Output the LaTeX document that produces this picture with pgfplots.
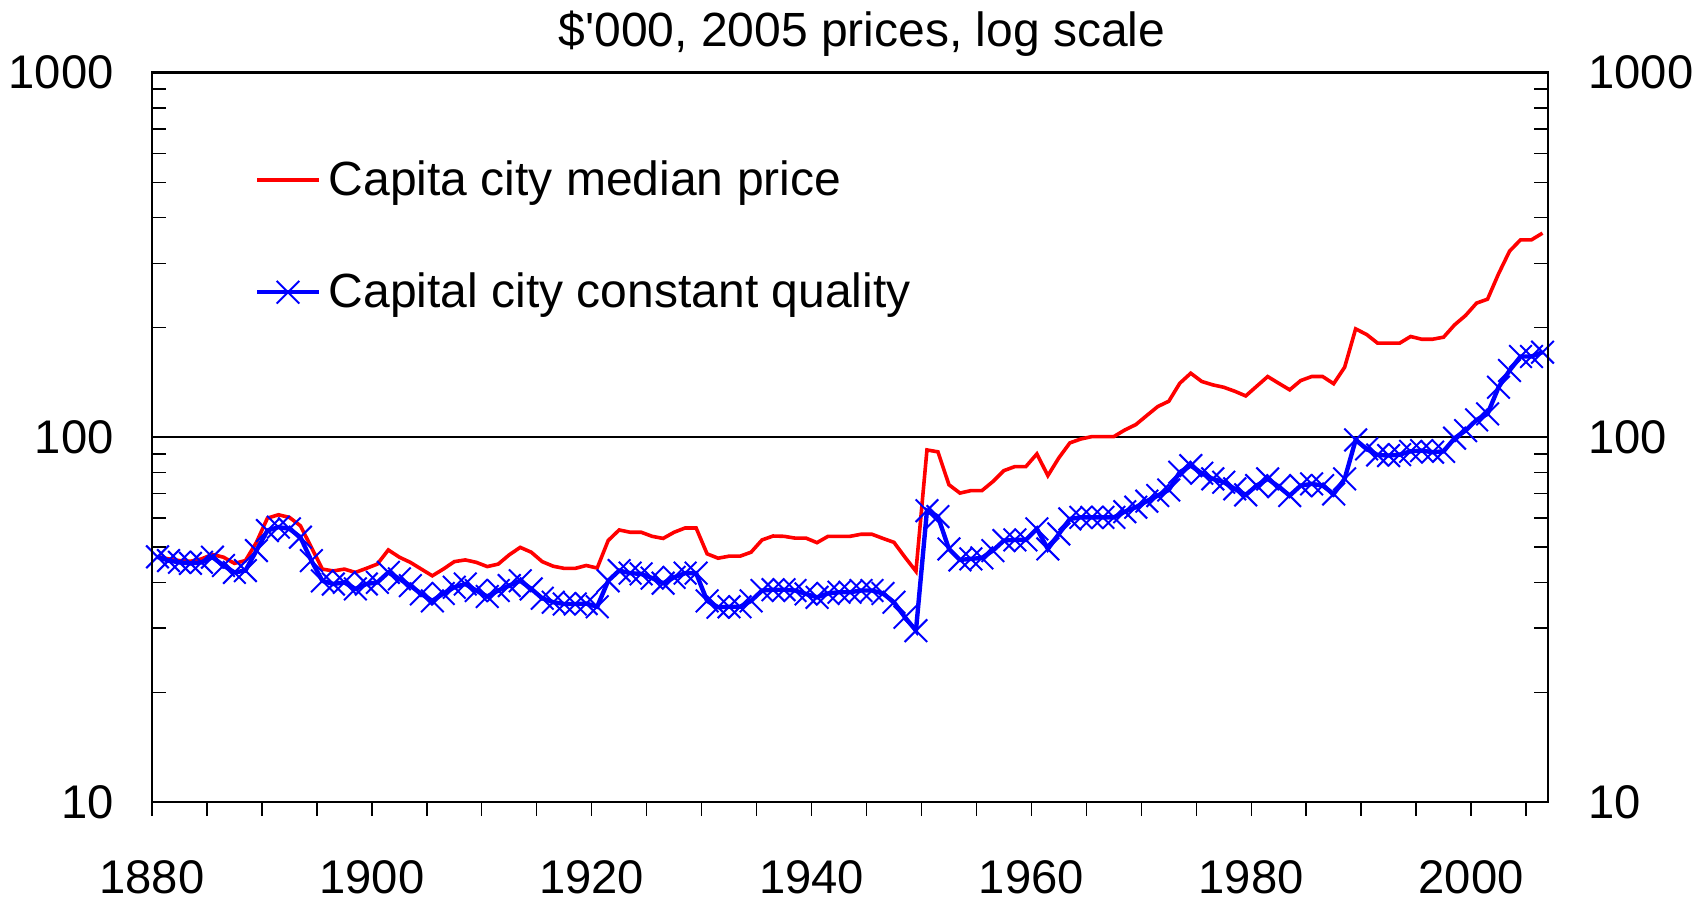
\documentclass[border=0pt]{standalone}
\usepackage{fontspec}
\setmainfont{Liberation Sans}
\usepackage{pgfplots}
\usepackage{pgfplotstable}
\pgfplotsset{compat=1.18}
\newcommand\fsA{\fontsize{24bp}{28bp}\selectfont}
\newcommand\fsT{\fontsize{23.6bp}{27bp}\selectfont}

\pgfplotstableread{
year med cq
1880 47.1 47.0
1881 46.4 45.9
1882 45.9 45.4
1883 45.7 45.1
1884 46.4 45.4
1885 47.7 46.9
1886 46.9 44.5
1887 45.1 42.6
1888 45.9 43.1
1889 51.5 48.9
1890 60.0 55.5
1891 61.3 56.7
1892 60.3 56.1
1893 57.2 53.2
1894 49.9 45.9
1895 43.5 40.4
1896 43.0 39.6
1897 43.5 40.0
1898 42.6 38.4
1899 43.7 39.6
1900 44.9 40.0
1901 49.1 42.6
1902 46.9 40.9
1903 45.4 39.2
1904 43.5 37.2
1905 41.7 35.6
1906 43.5 37.3
1907 45.6 38.8
1908 46.1 39.6
1909 45.4 38.0
1910 44.2 36.6
1911 44.9 38.0
1912 47.6 39.2
1913 49.9 40.4
1914 48.4 38.4
1915 45.6 36.2
1916 44.3 35.3
1917 43.7 34.9
1918 43.7 34.9
1919 44.5 35.0
1920 43.8 34.3
1921 52.1 40.4
1922 55.7 43.1
1923 54.9 42.4
1924 54.9 42.2
1925 53.5 41.1
1926 52.8 39.8
1927 54.9 41.3
1928 56.4 42.4
1929 56.4 42.4
1930 47.9 35.6
1931 46.6 34.2
1932 47.2 34.3
1933 47.2 34.3
1934 48.4 35.6
1935 52.3 38.0
1936 53.6 38.2
1937 53.5 38.2
1938 52.9 38.0
1939 52.9 37.2
1940 51.4 36.4
1941 53.5 37.3
1942 53.5 37.6
1943 53.5 37.6
1944 54.2 38.0
1945 54.2 38.0
1946 52.8 37.3
1947 51.5 35.3
1948 46.9 32.1
1949 42.9 29.5
1950 92.3 62.9
1951 91.2 60.6
1952 74.1 49.4
1953 70.3 46.1
1954 71.4 46.4
1955 71.4 46.7
1956 75.6 48.9
1957 81.0 52.1
1958 83.1 52.3
1959 83.1 52.3
1960 90.0 56.1
1961 78.5 49.4
1962 87.8 54.3
1963 96.5 59.7
1964 98.9 60.3
1965 100.4 60.3
1966 100.4 60.3
1967 100.4 60.3
1968 104.7 62.5
1969 108.3 64.3
1970 114.7 66.8
1971 121.4 69.2
1972 125.5 71.7
1973 140.6 80.2
1974 149.8 83.6
1975 142.2 79.7
1976 139.2 76.9
1977 137.1 75.3
1978 133.7 72.2
1979 129.8 69.5
1980 138.0 73.7
1981 146.7 76.9
1982 140.6 73.2
1983 134.9 69.2
1984 143.0 73.7
1985 146.7 74.5
1986 146.7 73.7
1987 140.2 69.9
1988 155.6 76.9
1989 198.2 98.3
1990 191.3 92.9
1991 181.1 89.4
1992 181.1 89.1
1993 181.1 89.6
1994 188.9 91.5
1995 185.7 91.9
1996 185.7 91.0
1997 188.1 91.5
1998 203.3 99.4
1999 215.7 104.3
2000 233.2 111.6
2001 239.1 115.9
2002 280.6 137.1
2003 323.7 152.4
2004 347.8 166.5
2005 347.8 166.5
2006 362.8 171.1
}\datatable

\begin{document}
\fsA
\begin{tikzpicture}
\begin{axis}[
  scale only axis, width=698bp, height=364.75bp,
  at={(0,0)}, anchor=south west,
  xmin=1879.5, xmax=2006.5,
  ymode=log, ymin=10, ymax=1000,
  axis line style={line width=1.3bp, black},
  tick style={line width=0.7bp, black},
  major tick length=7bp, minor tick length=7bp,
  ytick={10,100,1000}, yticklabels={10,100,1000},
  minor ytick={20,30,40,50,60,70,80,90,200,300,400,500,600,700,800,900},
  ytick align=inside, ytick pos=both,
  xtick={1879.5,1899.5,...,1999.5},
  xticklabels={1880,1900,1920,1940,1960,1980,2000},
  minor xtick={1884.5,1889.5,...,2004.5},
  xtick align=outside, xtick pos=left,
  every tick label/.append style={font=\fsT},
  clip=false,
  yticklabel pos=left,
  yticklabel style={anchor=east, inner sep=0pt, xshift=-19bp},
  xticklabel style={anchor=north, inner sep=0pt, yshift=-22bp},
  ymajorgrids, major grid style={line width=1bp, black},
  title={\$\textquotesingle 000, 2005 prices, log scale},
  title style={at={(axis description cs:0.5086,1)}, anchor=base, yshift=7bp, inner sep=0pt, font=\fsA},
  legend style={draw=none, fill=none, inner sep=0pt, font=\fsA,
    at={(axis description cs:0.0735,0.881)}, anchor=north west,
    row sep=32.1bp, column sep=4bp,
    nodes={anchor=base west, inner sep=0pt, text height=0.75em, text depth=0.25em}},
  legend image code/.code={\draw[mark repeat=2, mark phase=2, #1] plot coordinates {(0bp,7.85bp) (15.4bp,7.85bp) (30.75bp,7.85bp)};},
]
\addplot[color=red, line width=1.8bp] table[x=year, y=med] {\datatable};
\addlegendentry{Capita city median price}
\addplot[color=blue, line width=2.2bp, mark=x, mark size=8bp, mark options={line width=1bp, solid}] table[x=year, y=cq] {\datatable};
\addlegendentry{Capital city constant quality}
\end{axis}
\begin{axis}[
  scale only axis, width=698bp, height=364.75bp,
  at={(0,0)}, anchor=south west,
  xmin=1879.5, xmax=2006.5,
  ymode=log, ymin=10, ymax=1000,
  axis line style={line width=1.3bp, black},
  tick style={line width=0.7bp, black},
  major tick length=7bp, minor tick length=7bp,
  ytick={10,100,1000}, yticklabels={10,100,1000},
  minor ytick={20,30,40,50,60,70,80,90,200,300,400,500,600,700,800,900},
  ytick align=inside, ytick pos=both,
  every tick label/.append style={font=\fsT},
  hide x axis,
  yticklabel pos=right,
  yticklabel style={anchor=west, inner sep=0pt, xshift=20bp},
]
\end{axis}
\path (-76bp,-49bp) rectangle (772bp,401bp);
\end{tikzpicture}
\end{document}
